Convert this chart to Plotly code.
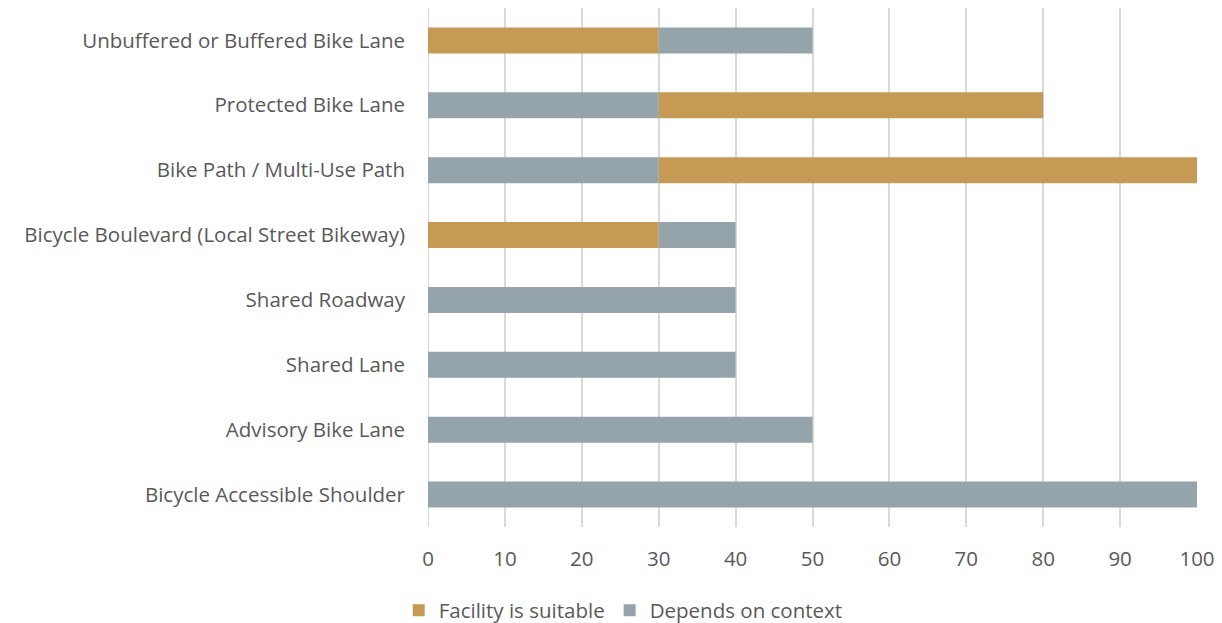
import plotly.graph_objects as go

categories = [
    "Unbuffered or Buffered Bike Lane",
    "Protected Bike Lane",
    "Bike Path / Multi-Use Path",
    "Bicycle Boulevard (Local Street Bikeway)",
    "Shared Roadway",
    "Shared Lane",
    "Advisory Bike Lane",
    "Bicycle Accessible Shoulder",
]
# segment start and end for each series (None = no segment)
suitable_start = [0, 30, 30, 0, None, None, None, None]
suitable_end = [30, 80, 100, 30, None, None, None, None]
context_start = [30, 0, 0, 30, 0, 0, 0, 0]
context_end = [50, 30, 30, 40, 40, 40, 50, 100]
x_ticks = [0, 10, 20, 30, 40, 50, 60, 70, 80, 90, 100]

def lengths(s, e):
    return [None if a is None else b - a for a, b in zip(s, e)]

font_family = "Open Sans"
text_color = "#595959"
fs = 20.5

fig = go.Figure()
fig.add_trace(go.Bar(
    name="Facility is suitable", y=categories, x=lengths(suitable_start, suitable_end),
    base=suitable_start, orientation="h", marker=dict(color="#C59A55", line=dict(width=0)),
    width=0.4,
))
fig.add_trace(go.Bar(
    name="Depends on context", y=categories, x=lengths(context_start, context_end),
    base=context_start, orientation="h", marker=dict(color="#95A3AB", line=dict(width=0)),
    width=0.4,
))

fig.update_layout(
    width=1222, height=623,
    margin=dict(l=428, r=25, t=8, b=96),
    plot_bgcolor="white", paper_bgcolor="white",
    barmode="overlay",
    font=dict(family=font_family, size=fs, color=text_color),
    showlegend=True,
    legend=dict(orientation="h", xref="container", yref="container", x=0.51, xanchor="center",
                y=0.02, yanchor="middle", font=dict(size=fs, color=text_color),
                traceorder="normal", itemwidth=30),
    xaxis=dict(range=[0, 100], tickvals=x_ticks, showgrid=True, gridcolor="#D9D9D9", gridwidth=2,
               zeroline=False, showline=False, ticks="", ticklabelstandoff=17,
               tickfont=dict(size=fs, color=text_color)),
    yaxis=dict(categoryorder="array", categoryarray=categories, autorange="reversed",
               showgrid=False, zeroline=False, showline=False, ticks="", ticklabelstandoff=22,
               tickfont=dict(size=fs, color=text_color)),
)
fig.add_shape(type="line", xref="x", yref="paper", x0=0, x1=0, y0=0, y1=1,
              line=dict(color="#D9D9D9", width=2), layer="below")

fig.write_html("out.html")
